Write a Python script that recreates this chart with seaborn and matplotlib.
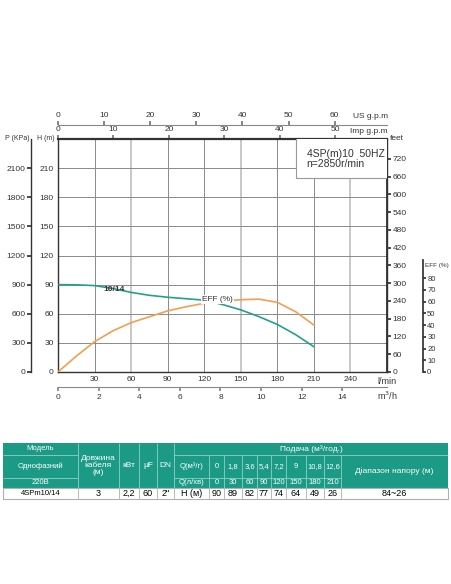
import numpy as np
import pandas as pd
import seaborn as sns
import matplotlib.pyplot as plt
from matplotlib.patches import Rectangle

# curve points (l/min, m, %)
q_curve = [0, 15, 30, 45, 60, 75, 90, 105, 120, 135, 150, 165, 180, 195, 210]
head_curve = [90, 89.8, 89, 86, 82, 79, 77, 75.5, 74, 69.5, 64, 57, 49, 38.5, 26]
eff_curve = [0, 13.5, 25.8, 35, 42, 47, 52, 55.5, 58.5, 60.5, 61.5, 62, 59.3, 51.3, 40]

# table values
q_lmin = [0, 30, 60, 90, 120, 150, 180, 210]
head_tab = [90, 89, 82, 77, 74, 64, 49, 26]
model = "4SPm10/14"
cable_len = "3"
power_kw = "2,2"
cap_uf = "60"
dn = '2"'
head_range = "84~26"

x_ticks = [30, 60, 90, 120, 150, 180, 210, 240]
h_ticks = [0, 30, 60, 90, 120, 150, 180, 210]
kpa_ticks = [0, 300, 600, 900, 1200, 1500, 1800, 2100]
feet_ticks = [0, 60, 120, 180, 240, 300, 360, 420, 480, 540, 600, 660, 720]
eff_ticks = [0, 10, 20, 30, 40, 50, 60, 70, 80]
us_ticks = [0, 10, 20, 30, 40, 50, 60]
imp_ticks = [0, 10, 20, 30, 40, 50]
m3h_ticks = [0, 2, 4, 6, 8, 10, 12, 14]

TEAL = "#23a08c"
ORANGE = "#f0a050"
HEAD_BG = "#1b9a85"
TXT = "#333333"

sns.set_theme(style="white")
plt.rcParams['font.family'] = ['Liberation Sans', 'DejaVu Sans']

W, H = 452, 584
fig = plt.figure(figsize=(W / 100, H / 100), dpi=100)

def fx(px):
    return px / W

def fy(py):
    return 1 - py / H

ax = fig.add_axes([fx(58), fy(372), fx(387) - fx(58), fy(139) - fy(372)])
ax.set_xlim(0, 270)
ax.set_ylim(0, 240)

# grid
for v in x_ticks:
    if (v - 60) % 90 == 0:
        ax.axvline(v, color="#c8c8c8", lw=1.4, zorder=0)
    else:
        ax.axvline(v, color="#8a8a8a", lw=0.7, zorder=0)
for h in h_ticks[1:]:
    ax.axhline(h, color="#8a8a8a", lw=0.7, zorder=0)

sns.lineplot(x=q_curve, y=head_curve, ax=ax, color=TEAL, lw=1.2, zorder=3)

ax.set_xticks(x_ticks)
ax.set_yticks(h_ticks)
ax.tick_params(axis='both', length=0, labelsize=6, labelcolor=TXT, pad=3)
for s in ax.spines.values():
    s.set_color("#333333")
    s.set_linewidth(1.0)
ax.spines['top'].set_linewidth(1.6)

# info box
ax.add_patch(Rectangle((195.4, 199.4), 80, 45, facecolor="white",
                       edgecolor="#999999", lw=0.8, zorder=4))
ax.text(204, 225, "4SP(m)10  50HZ", fontsize=7.5, color=TXT, va='center', zorder=5)
ax.text(204, 214, "n=2850r/min", fontsize=7.5, color=TXT, va='center', zorder=5)
ax.text(37.6, 85.3, "10/14", fontsize=6, fontweight='bold', color=TXT,
        va='center', zorder=6)

# efficiency on its own scale
ax2 = ax.twinx()
ax2.set_ylim(0, 198.3)
sns.lineplot(x=q_curve, y=eff_curve, ax=ax2, color=ORANGE, lw=1.2, zorder=2)
ax2.text(131, 61.5, "EFF (%)", fontsize=6, color=TXT, ha='center', va='center',
         bbox=dict(facecolor='white', edgecolor='none', pad=0.6), zorder=3)
for k in ['top', 'left', 'bottom']:
    ax2.spines[k].set_visible(False)
ax2.spines['right'].set_position(('outward', 36 * 0.72))
ax2.spines['right'].set_bounds(0, 95)
ax2.spines['right'].set_color("#333333")
ax2.set_yticks(eff_ticks)
ax2.tick_params(axis='y', length=2, labelsize=5.5, labelcolor=TXT, pad=1,
                color="#333333")
ax2.set_ylabel("")

# pressure scale on the left
sp = ax.secondary_yaxis(-27 / 329, functions=(lambda m: m * 10, lambda p: p / 10))
sp.set_yticks(kpa_ticks)
sp.tick_params(length=3, labelsize=6, labelcolor=TXT, pad=1, color="#333333")
sp.spines['left'].set_color("#333333")
sp.spines['left'].set_linewidth(1.0)

# feet on the right
sf = ax.secondary_yaxis('right', functions=(lambda m: m * 3.281, lambda f: f / 3.281))
sf.set_yticks(feet_ticks)
sf.tick_params(length=3, labelsize=6, labelcolor=TXT, pad=1, color="#333333")

# gpm scales on top
si = ax.secondary_xaxis('top', functions=(lambda q: q / 4.546, lambda g: g * 4.546))
si.set_xticks(imp_ticks)
si.tick_params(length=3, labelsize=6, labelcolor=TXT, pad=1, color="#777777")
su = ax.secondary_xaxis(1.06, functions=(lambda q: q / 3.785, lambda g: g * 3.785))
su.set_xticks(us_ticks)
su.tick_params(length=3, labelsize=6, labelcolor=TXT, pad=1, color="#777777")
su.spines['top'].set_color("#888888")
su.spines['top'].set_linewidth(0.8)

# m3/h scale at the bottom
sm = ax.secondary_xaxis(-15 / 233, functions=(lambda q: q * 0.06, lambda m: m / 0.06))
sm.set_xticks(m3h_ticks)
sm.tick_params(length=3, labelsize=6, labelcolor=TXT, pad=2, color="#888888")
sm.spines['bottom'].set_color("#888888")
sm.spines['bottom'].set_linewidth(0.8)

# axis captions
fig.text(fx(30), fy(139), "P (KPa)", fontsize=5, color=TXT, ha='right', va='center')
fig.text(fx(55), fy(139), "H (m)", fontsize=5, color=TXT, ha='right', va='center')
fig.text(fx(390), fy(139), "feet", fontsize=6, color=TXT, ha='left', va='center')
fig.text(fx(425), fy(266), "EFF (%)", fontsize=4.6, color=TXT, ha='left', va='center')
fig.text(fx(388), fy(116), "US g.p.m", fontsize=6, color=TXT, ha='right', va='center')
fig.text(fx(388), fy(131), "Imp g.p.m", fontsize=6, color=TXT, ha='right', va='center')
fig.text(fx(387), fy(382), "l/min", fontsize=6.5, color=TXT, ha='center', va='center')
fig.text(fx(387), fy(396), "m$^3$/h", fontsize=6.5, color=TXT, ha='center', va='center')

# ---- table ----
tb = fig.add_axes([0, 0, 1, 1], zorder=-1)
tb.set_xlim(0, W)
tb.set_ylim(H, 0)
tb.axis('off')

cols = [3, 78, 119, 139, 157, 174, 209, 224, 242, 257, 271, 286, 306, 324, 341, 448]
y0, y1, y2, y3, y4 = 443, 455, 478, 488, 499

tb.add_patch(Rectangle((cols[0], y0), cols[-1] - cols[0], y3 - y0,
                       facecolor=HEAD_BG, edgecolor='none'))
tb.add_patch(Rectangle((cols[0], y3), cols[-1] - cols[0], y4 - y3,
                       facecolor='white', edgecolor='#b0b0b0', lw=0.8))

lc = "#8fd0c4"
tb.hlines([y1, y2], cols[0], cols[1], color=lc, lw=0.6)
tb.hlines(y1, cols[5], cols[-1], color=lc, lw=0.6)
tb.hlines(y2, cols[5], cols[14], color=lc, lw=0.6)
tb.vlines(cols[1:6], y0, y3, color=lc, lw=0.6)
tb.vlines(cols[6:15], y1, y3, color=lc, lw=0.6)
tb.vlines(cols[1:-1], y3, y4, color='#b0b0b0', lw=0.6)

def cell(c0, c1, r0, r1, s, color='white', size=5.5):
    tb.text((cols[c0] + cols[c1]) / 2, (r0 + r1) / 2, s, fontsize=size,
            color=color, ha='center', va='center', linespacing=1.1)

cell(0, 1, y0, y1, "Модель")
cell(0, 1, y1, y2, "Однофазний")
cell(0, 1, y2, y3, "220В")
cell(1, 2, y0, y3, "Довжина\nкабеля\n(м)", size=6)
cell(2, 3, y0, y3, "кВт", size=6)
cell(3, 4, y0, y3, "μF", size=6)
cell(4, 5, y0, y3, "DN", size=6)
cell(5, 15, y0, y1, "Подача (м³/год.)", size=6)
cell(5, 6, y1, y2, "Q(м³/г)")
cell(5, 6, y2, y3, "Q(л/хв)")
cell(14, 15, y1, y3, "Діапазон напору (м)", size=6)

for i, q in enumerate(q_lmin):
    m3 = q * 0.06
    lab = f"{m3:.1f}".replace('.', ',')
    if lab.endswith(',0'):
        lab = lab[:-2]
    cell(6 + i, 7 + i, y1, y2, lab)
    cell(6 + i, 7 + i, y2, y3, str(q))
    cell(6 + i, 7 + i, y3, y4, str(head_tab[i]), color='black', size=6.5)

cell(0, 1, y3, y4, model, color='black', size=5.5)
cell(1, 2, y3, y4, cable_len, color='black', size=6.5)
cell(2, 3, y3, y4, power_kw, color='black', size=6.5)
cell(3, 4, y3, y4, cap_uf, color='black', size=6.5)
cell(4, 5, y3, y4, dn, color='black', size=6.5)
cell(5, 6, y3, y4, "Н (м)", color='black', size=6.5)
cell(14, 15, y3, y4, head_range, color='black', size=6.5)

fig.savefig("out.png", dpi=100)
